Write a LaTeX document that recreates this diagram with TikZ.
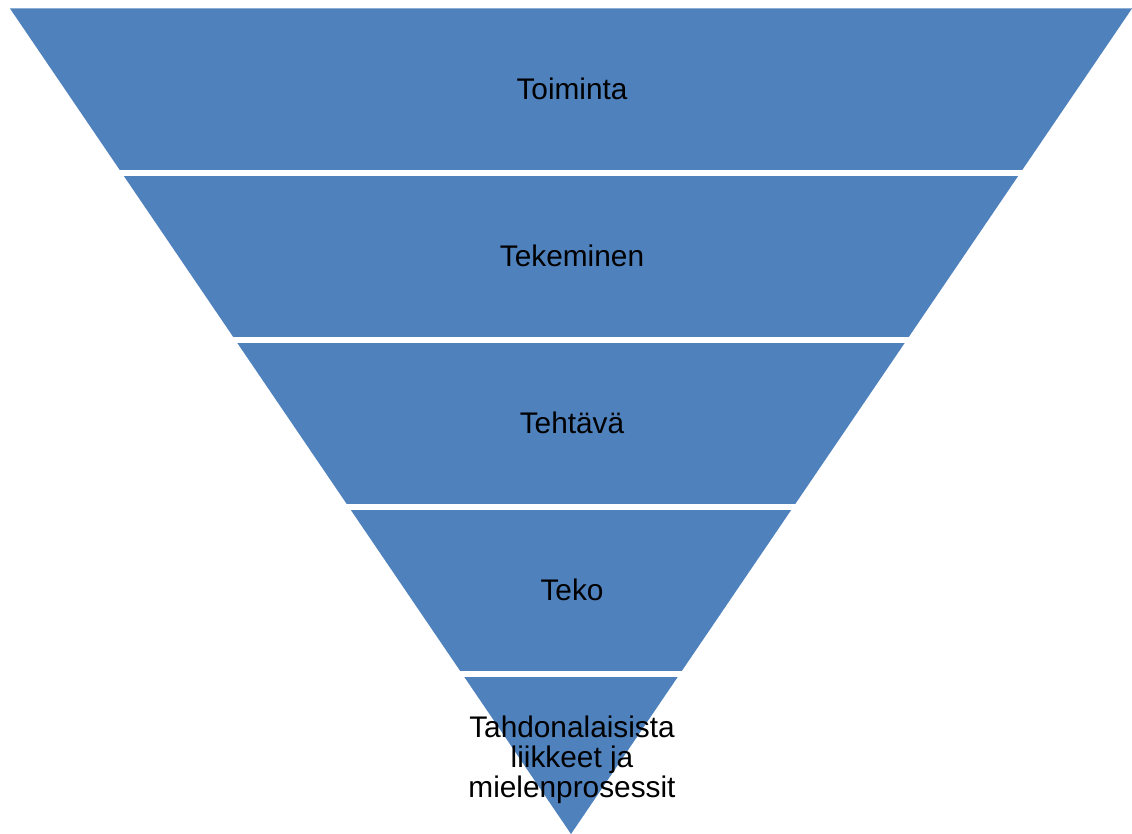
\documentclass[tikz,border=0pt]{standalone}
\usepackage{fontspec}
\setmainfont{Liberation Sans}
\usepackage{tikz}
\definecolor{bandblue}{HTML}{4F81BD}

\begin{document}
\begin{tikzpicture}[x = 0.025cm, y = -0.025cm,
    label/.style = {font = \fontsize{21.2}{21.3}\selectfont, align = center, inner sep = 0pt}]
  \useasboundingbox (0, 0) rectangle (1132, 834);
  \fill[bandblue] (10, 8.5) -- (1132, 8.5) -- (571, 834) -- cycle;
  \foreach \y in {173, 340, 507, 674}
    \draw[white, line width = 3.6pt] (0, \y) -- (1132, \y);
  \node[label] (toiminta) at (572, 89) {Toiminta};
  \node[label] (tekeminen) at (572, 256) {Tekeminen};
  \node[label] (tehtava) at (572, 423) {Tehtävä};
  \node[label] (teko) at (572, 590) {Teko};
  \node[label] (liikkeet) at (572, 760) {Tahdonalaisista\\liikkeet ja\\mielenprosessit};
\end{tikzpicture}
\end{document}
